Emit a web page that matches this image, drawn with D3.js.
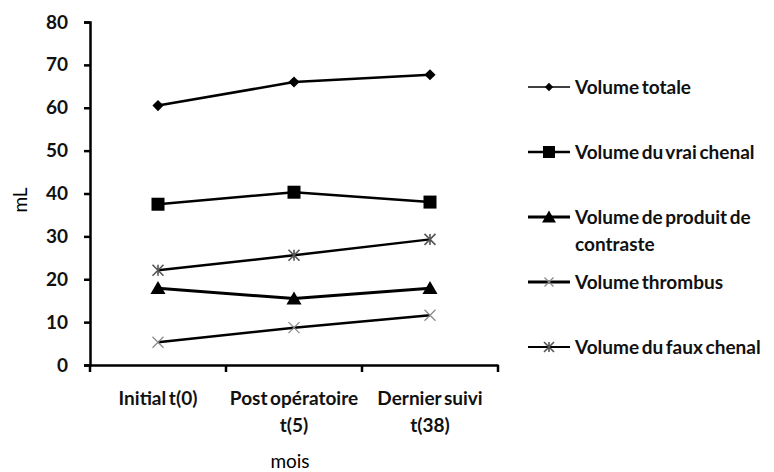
<!DOCTYPE html>
<html>
<head>
<meta charset="utf-8">
<script src="https://cdn.jsdelivr.net/npm/d3@7"></script>
<style>
  body { margin: 0; background: #fff; }
  svg text { font-family: Lato, "Open Sans", sans-serif; font-weight: bold; fill: #111; word-spacing: -2px; }
  svg text.title { font-weight: normal; fill: #000; }
</style>
</head>
<body>
<script>
const categories = ["Initial t(0)", "Post opératoire t(5)", "Dernier suivi t(38)"];
const tickLines = [["Initial t(0)"], ["Post opératoire", "t(5)"], ["Dernier suivi", "t(38)"]];
const yTicks = [0, 10, 20, 30, 40, 50, 60, 70, 80];

const volTotale = [60.5, 66.0, 67.7];
const volVrai = [37.5, 40.3, 38.0];
const volProduit = [17.9, 15.5, 17.9];
const volThrombus = [5.3, 8.7, 11.6];
const volFaux = [22.1, 25.6, 29.3];

const seriesNames = ["Volume totale", "Volume du vrai chenal", "Volume de produit de contraste", "Volume thrombus", "Volume du faux chenal"];
const legendLines = [["Volume totale"], ["Volume du vrai chenal"], ["Volume de produit de", "contraste"], ["Volume thrombus"], ["Volume du faux chenal"]];

const w = 774, h = 472;
const plotLeft = 90, plotRight = 498, plotTop = 22, plotBottom = 365;
const fs = "19px";

const svg = d3.select("body").append("svg")
  .attr("width", w)
  .attr("height", h);

const x = d3.scaleBand().domain(categories).range([plotLeft, plotRight]).paddingInner(0).paddingOuter(0);
const y = d3.scaleLinear().domain([0, 80]).range([plotBottom, plotTop]);
const cx = (c) => x(c) + x.bandwidth() / 2;

// y axis
const yAxis = d3.axisLeft(y).tickValues(yTicks).tickSize(6).tickPadding(16);
const gy = svg.append("g").attr("transform", "translate(" + plotLeft + ",0)").call(yAxis);
gy.select(".domain").attr("stroke", "#000").attr("stroke-width", 2.5);
gy.selectAll(".tick line").attr("stroke", "#000").attr("stroke-width", 2.5);
gy.selectAll(".tick text").style("font-size", fs).attr("fill", "#111");

// x axis
const xAxis = d3.axisBottom(x).tickSize(0).tickFormat("");
const gx = svg.append("g").attr("transform", "translate(0," + plotBottom + ")").call(xAxis);
gx.select(".domain").attr("stroke", "#000").attr("stroke-width", 2.5);
gx.selectAll(".tick text").remove();
gx.selectAll(".bnd").data(categories.map(c => x(c)).concat([plotRight]))
  .enter().append("line")
  .attr("class", "bnd")
  .attr("x1", d => d).attr("x2", d => d)
  .attr("y1", 0).attr("y2", 7)
  .attr("stroke", "#000").attr("stroke-width", 2.5);
categories.forEach((c, i) => {
  tickLines[i].forEach((ln, j) => {
    gx.append("text")
      .attr("x", cx(c)).attr("y", 40 + j * 27)
      .attr("text-anchor", "middle")
      .style("font-size", fs)
      .text(ln);
  });
});

// axis titles
svg.append("text")
  .attr("class", "title")
  .attr("x", (plotLeft + plotRight) / 2 - 4).attr("y", 468)
  .attr("text-anchor", "middle")
  .style("font-size", fs)
  .text("mois");
svg.append("text")
  .attr("class", "title")
  .attr("transform", "translate(27,200) rotate(-90)")
  .attr("text-anchor", "middle")
  .style("font-size", fs)
  .text("mL");

// markers
const sym = {
  diamond: (g, s) => g.append("path").attr("d", d3.symbol(d3.symbolDiamond2, s * s * 0.55)()).attr("fill", "#000"),
  square: (g, s) => g.append("rect").attr("x", -s / 2).attr("y", -s / 2).attr("width", s).attr("height", s).attr("fill", "#000"),
  triangle: (g, s) => g.append("path").attr("d", "M0," + (-s * 0.55) + "L" + (s * 0.58) + "," + (s * 0.45) + "L" + (-s * 0.58) + "," + (s * 0.45) + "Z").attr("fill", "#000"),
  cross: (g, s) => g.append("path").attr("d", "M" + (-s / 2) + "," + (-s / 2) + "L" + (s / 2) + "," + (s / 2) + "M" + (s / 2) + "," + (-s / 2) + "L" + (-s / 2) + "," + (s / 2)).attr("stroke", "#888").attr("stroke-width", 1.2).attr("fill", "none"),
  star: (g, s) => g.append("path").attr("d", "M" + (-s / 2) + "," + (-s / 2) + "L" + (s / 2) + "," + (s / 2) + "M" + (s / 2) + "," + (-s / 2) + "L" + (-s / 2) + "," + (s / 2) + "M0," + (-s / 2) + "L0," + (s / 2)).attr("stroke", "#555").attr("stroke-width", 1.6).attr("fill", "none")
};

const series = [
  { name: seriesNames[0], values: volTotale, marker: "diamond", size: 12, lw: 2.5, legLw: 1.5, legSize: 9 },
  { name: seriesNames[1], values: volVrai, marker: "square", size: 13, lw: 2.5, legLw: 2.5, legSize: 12 },
  { name: seriesNames[2], values: volProduit, marker: "triangle", size: 13, lw: 3, legLw: 3, legSize: 12 },
  { name: seriesNames[3], values: volThrombus, marker: "cross", size: 11, lw: 2.5, legLw: 3, legSize: 9 },
  { name: seriesNames[4], values: volFaux, marker: "star", size: 11, lw: 2.5, legLw: 2, legSize: 10 }
];

const line = d3.line().x((d, i) => cx(categories[i])).y(d => y(d));

series.forEach(s => {
  svg.append("path")
    .datum(s.values)
    .attr("d", line)
    .attr("fill", "none")
    .attr("stroke", "#000")
    .attr("stroke-width", s.lw)
    .attr("stroke-linejoin", "round");
  s.values.forEach((v, i) => {
    const g = svg.append("g").attr("transform", "translate(" + cx(categories[i]) + "," + y(v) + ")");
    sym[s.marker](g, s.size);
  });
});

// legend
const legX = 528, legY = 87, legStep = 65;
series.forEach((s, i) => {
  const g = svg.append("g").attr("transform", "translate(" + legX + "," + (legY + i * legStep) + ")");
  g.append("line").attr("x1", 0).attr("x2", 42).attr("y1", 0).attr("y2", 0)
    .attr("stroke", "#000").attr("stroke-width", s.legLw);
  const m = g.append("g").attr("transform", "translate(21,0)");
  sym[s.marker](m, s.legSize);
  legendLines[i].forEach((ln, j) => {
    g.append("text").attr("x", 47).attr("y", 7 + j * 27).style("font-size", fs).text(ln);
  });
});
</script>
</body>
</html>
